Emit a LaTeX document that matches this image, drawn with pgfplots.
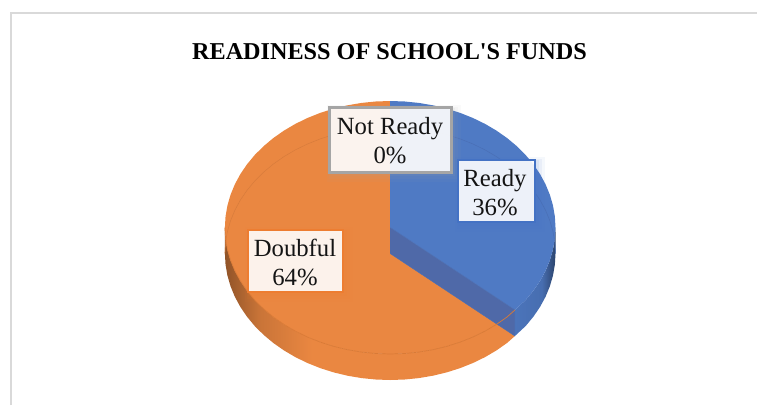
\documentclass[border=0pt]{standalone}
\usepackage{fontspec}
\setmainfont{Liberation Serif}
\newfontfamily\titlefont{Liberation Serif}
\usepackage{pgfplots}
\usepackage{pgfplotstable}
\pgfplotsset{compat=1.18}

\definecolor{blueTop}{HTML}{4F7AC4}
\definecolor{blueWall}{HTML}{4F69A8}
\definecolor{blueEdge}{HTML}{4A6FB5}
\definecolor{orangeTop}{HTML}{EA8741}
\definecolor{orangeEdge}{HTML}{D97A36}
\definecolor{frameGrey}{HTML}{D9D9D9}
\definecolor{boxBlue}{HTML}{4472C4}
\definecolor{boxOrange}{HTML}{ED7D31}
\definecolor{boxGrey}{HTML}{A5A5A5}
\definecolor{inkBlack}{HTML}{141414}

% Rim shadings: the part of each side wall that turns away from the viewer is darker
\pgfdeclarehorizontalshading{orangeRim}{100bp}{
  color(0bp)=(orangeTop!50!black); color(25bp)=(orangeTop!62!black);
  color(31bp)=(orangeTop!86!black); color(40bp)=(orangeTop); color(100bp)=(orangeTop)}
\pgfdeclarehorizontalshading{blueRim}{100bp}{
  color(0bp)=(blueTop); color(25bp)=(blueTop!95!black);
  color(58bp)=(blueTop!90!black); color(75bp)=(blueTop!55!black); color(100bp)=(blueTop!55!black)}

% Slice shares in percent
\pgfplotstableread{
name      share
Ready     36
{Not Ready} 0
Doubful   64
}\shares

% Outline of the Ready slice, clockwise from twelve o'clock to the 36 % boundary
\pgfplotstableread{
sx cy
0 0
0 1
.0872 .9962
.1736 .9848
.2588 .9659
.3420 .9397
.4226 .9063
.5 .8660
.5736 .8192
.6428 .7660
.7071 .7071
.7660 .6428
.8192 .5736
.8660 .5
.9063 .4226
.9397 .3420
.9659 .2588
.9848 .1736
.9962 .0872
1 0
.9962 -.0872
.9848 -.1736
.9659 -.2588
.9397 -.3420
.9063 -.4226
.8660 -.5
.8192 -.5736
.7545 -.6520
}\readyOutline

% Outline of the Doubful slice, from the 36 % boundary round to twelve o'clock
\pgfplotstableread{
sx cy
0 0
.7545 -.6520
.7071 -.7071
.6428 -.7660
.5736 -.8192
.5 -.8660
.4226 -.9063
.3420 -.9397
.2588 -.9659
.1736 -.9848
.0872 -.9962
0 -1
-.0872 -.9962
-.1736 -.9848
-.2588 -.9659
-.3420 -.9397
-.4226 -.9063
-.5 -.8660
-.5736 -.8192
-.6428 -.7660
-.7071 -.7071
-.7660 -.6428
-.8192 -.5736
-.8660 -.5
-.9063 -.4226
-.9397 -.3420
-.9659 -.2588
-.9848 -.1736
-.9962 -.0872
-1 0
-.9962 .0872
-.9848 .1736
-.9659 .2588
-.9397 .3420
-.9063 .4226
-.8660 .5
-.8192 .5736
-.7660 .6428
-.7071 .7071
-.6428 .7660
-.5736 .8192
-.5 .8660
-.4226 .9063
-.3420 .9397
-.2588 .9659
-.1736 .9848
-.0872 .9962
0 1
}\doubfulOutline

% Front side walls: upper edge forwards, lower edge back (lvl 1 = lower edge)
\pgfplotstableread{
sx cy lvl
1 0 0
.9962 -.0872 0
.9848 -.1736 0
.9659 -.2588 0
.9397 -.3420 0
.9063 -.4226 0
.8660 -.5 0
.8192 -.5736 0
.7545 -.6520 0
.7545 -.6520 1
.8192 -.5736 1
.8660 -.5 1
.9063 -.4226 1
.9397 -.3420 1
.9659 -.2588 1
.9848 -.1736 1
.9962 -.0872 1
1 0 1
}\readyRim

\pgfplotstableread{
sx cy lvl
.7545 -.6520 0
.7071 -.7071 0
.6428 -.7660 0
.5736 -.8192 0
.5 -.8660 0
.4226 -.9063 0
.3420 -.9397 0
.2588 -.9659 0
.1736 -.9848 0
.0872 -.9962 0
0 -1 0
-.0872 -.9962 0
-.1736 -.9848 0
-.2588 -.9659 0
-.3420 -.9397 0
-.4226 -.9063 0
-.5 -.8660 0
-.5736 -.8192 0
-.6428 -.7660 0
-.7071 -.7071 0
-.7660 -.6428 0
-.8192 -.5736 0
-.8660 -.5 0
-.9063 -.4226 0
-.9397 -.3420 0
-.9659 -.2588 0
-.9848 -.1736 0
-.9962 -.0872 0
-1 0 0
-1 0 1
-.9962 -.0872 1
-.9848 -.1736 1
-.9659 -.2588 1
-.9397 -.3420 1
-.9063 -.4226 1
-.8660 -.5 1
-.8192 -.5736 1
-.7660 -.6428 1
-.7071 -.7071 1
-.6428 -.7660 1
-.5736 -.8192 1
-.5 -.8660 1
-.4226 -.9063 1
-.3420 -.9397 1
-.2588 -.9659 1
-.1736 -.9848 1
-.0872 -.9962 1
0 -1 1
.0872 -.9962 1
.1736 -.9848 1
.2588 -.9659 1
.3420 -.9397 1
.4226 -.9063 1
.5 -.8660 1
.5736 -.8192 1
.6428 -.7660 1
.7071 -.7071 1
.7545 -.6520 1
}\doubfulRim

% Cut face of the Ready slice, seen where the Doubful slice is pulled away
\pgfplotstableread{
sx cy lvl
0 0 0
.7545 -.6520 0
.7545 -.6520 1
0 0 1
}\readyCut

% Map unit-circle rows onto the tilted disc; the argument is the drop below the top face
\pgfplotsset{
  /pgfplots/table/disc/.style={
    x expr=390.2+165.3*\thisrow{sx},
    y expr=227.5-126.5*\thisrow{cy}+#1},
}

% Framed data label with a soft shadow in the frame colour
\newcommand{\databox}[6]{%
  \fill[#5,opacity=.05] (axis cs:#1-3,#2-3) rectangle (axis cs:#3+10,#4+10);
  \fill[#5,opacity=.07] (axis cs:#1-1,#2-1) rectangle (axis cs:#3+7,#4+7);
  \fill[#5,opacity=.09] (axis cs:#1,#2) rectangle (axis cs:#3+4,#4+4);
  \fill[white,opacity=.9] (axis cs:#1,#2) rectangle (axis cs:#3,#4);
  \draw[#5,line width=#6pt] (axis cs:#1,#2) rectangle (axis cs:#3,#4);
}

\begin{document}
\begin{tikzpicture}
\useasboundingbox (0,0) rectangle (757pt,405pt);
\begin{axis}[
  at={(0,0)}, anchor=south west,
  scale only axis, width=757pt, height=405pt,
  xmin=0, xmax=757, ymin=0, ymax=405, y dir=reverse,
  hide axis, clip=false, no markers,
]
% chart frame, open to the right and below
\addplot[frameGrey, line width=1.8pt] coordinates {(11,405) (11,13) (757,13)};

% Doubful slice
\addplot[shading=orangeRim, draw=none] table[disc={26*\thisrow{lvl}}] {\doubfulRim};
\addplot[fill=orangeTop, draw=none] table[disc=0] {\doubfulOutline};
% Ready slice
\addplot[shading=blueRim, draw=none] table[disc={26*\thisrow{lvl}}] {\readyRim};
\addplot[fill=blueTop, draw=none] table[disc=0] {\readyOutline};
\addplot[fill=blueWall, draw=blueEdge, line width=.5pt] table[disc={26*\thisrow{lvl}}] {\readyCut};

% faint edges of the disc showing through the translucent faces
\addplot[orangeEdge, line width=.7pt, skip coords between index={0}{1}, skip coords between index={30}{60}]
  table[disc=0] {\doubfulOutline};
\addplot[orangeTop!92!black, line width=.5pt, skip coords between index={0}{29}]
  table[disc=26] {\doubfulOutline};
\addplot[blueEdge, line width=.5pt, skip coords between index={0}{1}, skip coords between index={20}{40}]
  table[disc=26] {\readyOutline};

% data labels
\databox{329.5}{107.5}{451}{172}{boxGrey}{3}
\databox{458}{159.5}{534.5}{222}{boxBlue}{2}
\databox{247.5}{230}{343}{291.5}{boxOrange}{2}
\node[align=center, text=inkBlack, font=\fontsize{24.7}{29}\selectfont] at (axis cs:390,140.5) {Not Ready\\0\%};
\node[align=center, text=inkBlack, font=\fontsize{24.7}{29}\selectfont] at (axis cs:495,193) {Ready\\36\%};
\node[align=center, text=inkBlack, font=\fontsize{24.7}{29}\selectfont] at (axis cs:295,262) {Doubful\\64\%};

% title
\node[text=black, font=\titlefont\bfseries\fontsize{24.2}{28}\selectfont] at (axis cs:389.5,51.5) {READINESS OF SCHOOL'S FUNDS};
\end{axis}
\end{tikzpicture}
\end{document}
